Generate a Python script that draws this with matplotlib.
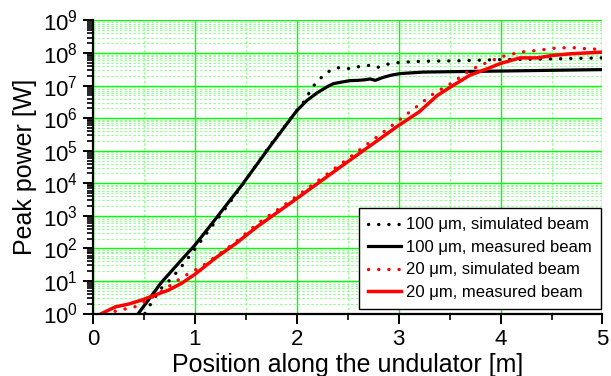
import matplotlib
matplotlib.use('Agg')
import matplotlib.pyplot as plt
import matplotlib.ticker as ticker
import numpy as np

plt.rcParams['font.family'] = ['Liberation Sans', 'DejaVu Sans']
plt.rcParams['mathtext.fontset'] = 'custom'
plt.rcParams['mathtext.rm'] = 'Liberation Sans'
plt.rcParams['mathtext.it'] = 'Liberation Sans:italic'

#------------------------------------------------------------------------------
# DATA

# 100 um, simulated beam
x_100_sim = [0.51, 0.59, 0.67, 0.77, 0.87, 0.97, 1.0, 1.38, 1.74, 2.0, 2.07, 2.16,
             2.23, 2.30, 2.39, 2.45, 2.52, 2.62, 2.72, 2.79, 2.88, 3.02, 3.24, 3.6,
             4.0, 4.5, 5.0]
p_100_sim = [1.0, 2.6, 5.9, 12, 28, 71, 95, 3.7e3, 1.5e5, 1.7e6, 3.2e6, 9.5e6,
             1.65e7, 2.6e7, 3.5e7, 3.6e7, 3.3e7, 3.9e7, 4.2e7, 3.6e7, 4.5e7, 5.2e7,
             5.6e7, 5.8e7, 6.3e7, 6.6e7, 7.1e7]

# 100 um, measured beam
x_100_meas = [0.445, 0.58, 0.67, 0.77, 0.87, 1.0, 1.13, 1.46, 1.74, 2.0, 2.1, 2.2,
              2.3, 2.36, 2.45, 2.52, 2.6, 2.66, 2.72, 2.77, 2.85, 2.93, 3.02, 3.24,
              3.6, 4.0, 4.5, 5.0]
p_100_meas = [1.0, 3.7, 8.9, 20, 45, 126, 410, 8.7e3, 1.4e5, 1.7e6, 3.5e6, 6.0e6,
              9.3e6, 1.15e7, 1.3e7, 1.42e7, 1.45e7, 1.5e7, 1.6e7, 1.45e7, 1.8e7,
              2.1e7, 2.35e7, 2.6e7, 2.7e7, 2.8e7, 2.95e7, 3.1e7]

# 20 um, simulated beam
x_20_sim = [0.12, 0.28, 0.41, 0.54, 0.67, 0.81, 0.94, 1.07, 1.38, 1.61, 2.0, 2.5,
            3.0, 3.34, 3.54, 3.70, 3.87, 4.03, 4.19, 4.36, 4.52, 4.69, 4.85, 5.0]
p_20_sim = [1.0, 1.3, 1.6, 2.6, 4.7, 9.5, 17, 28, 140, 560, 4.0e3, 5.6e4,
            8.5e5, 5.6e6, 1.3e7, 3.0e7, 5.2e7, 8.0e7, 1.07e8, 1.2e8, 1.4e8, 1.48e8,
            1.35e8, 1.3e8]

# 20 um, measured beam
x_20_meas = [0.085, 0.22, 0.35, 0.48, 0.61, 0.74, 0.87, 1.0, 1.2, 1.4, 1.61, 2.0,
             2.43, 3.0, 3.2, 3.38, 3.5, 3.70, 3.87, 4.0, 4.19, 4.36, 4.52, 4.69, 5.0]
p_20_meas = [1.0, 1.6, 1.95, 2.6, 3.7, 5.2, 8.5, 16, 50, 140, 460, 3.4e3,
             3.2e4, 6.0e5, 1.55e6, 5.0e6, 8.7e6, 2.1e7, 3.3e7, 4.8e7, 7.1e7, 7.1e7,
             8.5e7, 9.5e7, 1.07e8]

labels = [u'100 \u03bcm, simulated beam', u'100 \u03bcm, measured beam',
          u'20 \u03bcm, simulated beam', u'20 \u03bcm, measured beam']

xticks = [0, 1, 2, 3, 4, 5]
yticks = [1e0, 1e1, 1e2, 1e3, 1e4, 1e5, 1e6, 1e7, 1e8, 1e9]

#------------------------------------------------------------------------------
# PLOT

fig = plt.figure(figsize=(6.11, 3.76), dpi=100)
ax = fig.add_axes([0.1522, 0.1662, 0.8338, 0.7793])

dots = (0, (0.05, 3.0))   # round dots
ax.plot(x_100_sim, p_100_sim, color='black', lw=2.4, ls=dots, dash_capstyle='round', label=labels[0])
ax.plot(x_100_meas, p_100_meas, color='black', lw=2.3, ls='-', label=labels[1])
ax.plot(x_20_sim, p_20_sim, color='red', lw=2.4, ls=dots, dash_capstyle='round', label=labels[2])
ax.plot(x_20_meas, p_20_meas, color='red', lw=2.5, ls='-', label=labels[3])

ax.set_yscale('log')
ax.set_xlim(0, 5)
ax.set_ylim(1, 1e9)

ax.xaxis.set_major_locator(ticker.FixedLocator(xticks))
ax.xaxis.set_major_formatter(ticker.FormatStrFormatter('%d'))
ax.xaxis.set_minor_locator(ticker.MultipleLocator(0.5))
ax.yaxis.set_major_locator(ticker.FixedLocator(yticks))
ax.yaxis.set_minor_locator(ticker.LogLocator(base=10, subs=np.arange(2, 10), numticks=20))
ax.yaxis.set_minor_formatter(ticker.NullFormatter())

# grid
ax.grid(which='major', color='#00ff00', lw=1.0, ls='-')
ax.grid(which='minor', color='#8cff8c', lw=0.8, ls=(0, (2, 2)))
ax.set_axisbelow(True)
for t in ax.xaxis.get_major_ticks():
    if t.get_loc() == 5:
        t.gridline.set_visible(False)
for t in ax.yaxis.get_major_ticks():
    if t.get_loc() == 1e9:
        t.gridline.set_visible(False)

# spines / ticks
ax.spines['top'].set_visible(False)
ax.spines['right'].set_visible(False)
ax.spines['left'].set_linewidth(1.6)
ax.spines['bottom'].set_linewidth(1.6)
ax.tick_params(which='major', direction='out', length=7, width=1.4, labelsize=16, pad=4)
ax.tick_params(which='minor', direction='out', length=4, width=1.2)

ax.set_xlabel('Position along the undulator [m]', fontsize=18, labelpad=2)
ax.set_ylabel('Peak power [W]', fontsize=18, labelpad=4)

leg = ax.legend(loc='lower right', bbox_to_anchor=(0.997, 0.015), borderaxespad=0,
                fontsize=12, handlelength=2.0, handletextpad=0.3, labelspacing=0.45,
                borderpad=0.55, fancybox=False, framealpha=1, edgecolor='black')
leg.get_frame().set_linewidth(1.0)

fig.savefig('out.png', dpi=100)
